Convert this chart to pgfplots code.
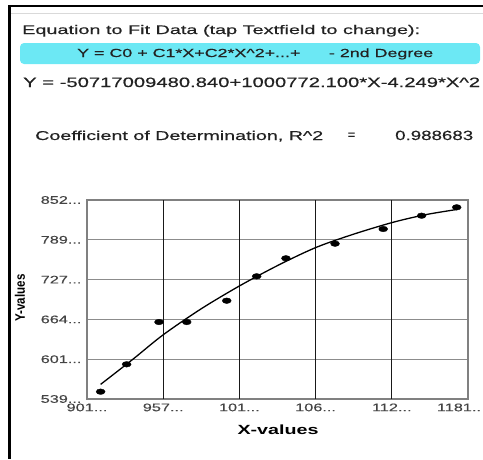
\documentclass[border=0pt]{standalone}
\usepackage{pgfplots}
\pgfplotsset{compat=1.18}
\usepackage{graphicx}
\usepackage{fontspec}
\setmainfont{Liberation Sans}[FakeBold=0.4]
\newfontfamily\wide{Liberation Sans}[FakeStretch=1.48, FakeBold=0.35]
\newfontfamily\widebold{Liberation Sans Bold}[FakeStretch=1.48]
\newfontfamily\plainbold{Liberation Sans Bold}
\definecolor{boxcyan}{HTML}{6CE8F4}
\definecolor{txt}{HTML}{222222}
\definecolor{tick}{HTML}{444444}
\protected\def\dd{{.}{.}{.}}
\protected\def\twod{{.}{.}}
\begin{document}
\begin{tikzpicture}[x=1pt,y=1pt]
\path[use as bounding box] (0,0) rectangle (483,-459);
% frame
\draw[black!15, line width=1pt] (10,-13) -- (483,-13);
\draw[black, line width=2.6pt] (8,-6) -- (483,-6);
\draw[black, line width=3pt] (9.5,-6) -- (9.5,-459);
% header texts
\node[anchor=base west, inner sep=0, text=txt] at (22,-34) {\resizebox{398pt}{9pt}{Equation to Fit Data (tap Textfield to change):}};
\fill[boxcyan, rounded corners=4pt] (20,-43) rectangle (480,-64);
\node[anchor=base west, inner sep=0, text=txt] at (77,-57) {\resizebox{356pt}{8.5pt}{Y = C0 + C1*X+C2*X\textasciicircum 2+\dd+\hspace{1.6em}- 2nd Degree}};
\node[anchor=base west, inner sep=0, text=txt] at (23,-87) {\resizebox{457pt}{9.5pt}{Y = -50717009480.840+1000772.100*X-4.249*X\textasciicircum 2}};
\node[anchor=base west, inner sep=0, text=txt] at (35,-140) {\resizebox{288pt}{9.3pt}{Coefficient of Determination, R\textasciicircum 2}};
\node[anchor=base west, inner sep=0, text=txt] at (347.5,-139) {\resizebox{7.5pt}{!}{=}};
\node[anchor=base west, inner sep=0, text=txt] at (395,-140) {\resizebox{78pt}{9.3pt}{0.988683}};
% chart
\begin{axis}[
  at={(87pt,-399pt)}, anchor=south west,
  scale only axis, width=381pt, height=199pt,
  xmin=901, xmax=1181, ymin=539, ymax=852,
  xtick={901,957,1013,1069,1125,1181},
  xticklabels={901\dd,957\dd,101\dd,106\dd,112\dd,1181\twod\hspace*{18pt}},
  ytick={539,601.6,664.2,726.8,789.4,852},
  yticklabels={539\dd,601\dd,664\dd,727\dd,789\dd,852\dd},
  major tick length=0pt,
  tick label style={font=\wide\fontsize{11}{11}\selectfont, text=tick},
  xticklabel style={yshift=-1pt},
  yticklabel style={xshift=-2pt},
  axis line style={black!50, line width=1.3pt},
  ymajorgrids=true,
  major grid style={black!45, line width=1.2pt},
  extra x ticks={957,1013,1069,1125},
  extra x tick labels={},
  extra x tick style={grid=major, major grid style={black!90, line width=1.1pt}},
  clip=false,
]
\addplot[black, line width=1.3pt, smooth, no markers] coordinates {
(911,562) (935,602) (957,640) (985,681) (1014,718) (1043,751) (1070,778) (1098,799) (1126,817) (1150,829) (1172.6,837)
};
\addplot[only marks, mark=*, mark size=2.8pt, mark options={xscale=1.6, black, fill=black}] coordinates {
(911.0,550.5) (930.1,593.6) (953.9,660.1) (974.3,660.1) (1003.7,693.6) (1025.7,732.0)
(1047.2,760.3) (1083.3,783.3) (1118.7,806.4) (1146.9,827.3) (1172.7,840.5)
};
\end{axis}
\node[text=black] at (278,-429.5) {\widebold\fontsize{13.3}{13.3}\selectfont X-values};
\node[rotate=90, inner sep=0] at (20,-298) {\resizebox{47pt}{10pt}{\plainbold Y-values}};
\end{tikzpicture}
\end{document}
